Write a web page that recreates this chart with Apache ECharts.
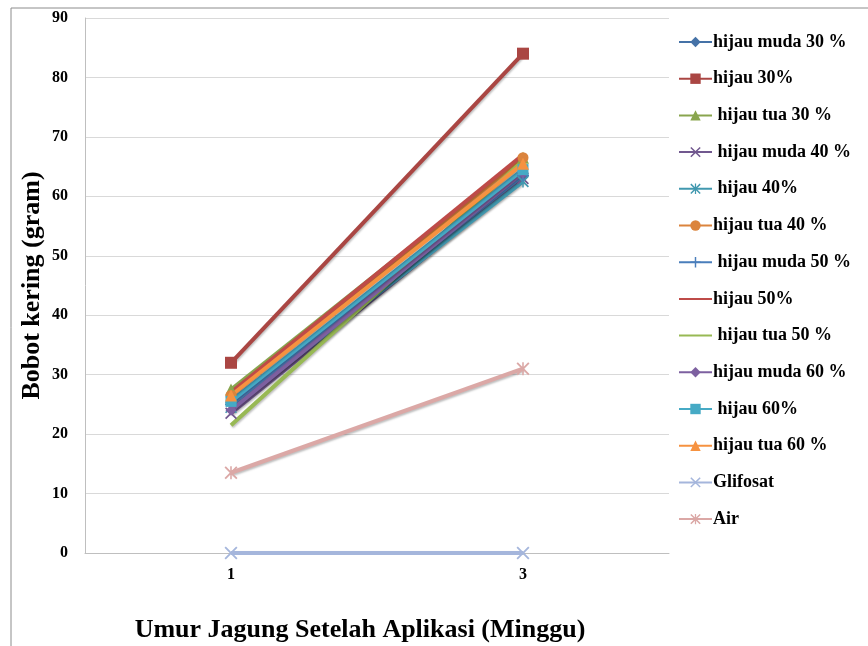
<!DOCTYPE html>
<html>
<head>
<meta charset="utf-8">
<script src="https://cdn.jsdelivr.net/npm/echarts@6/dist/echarts.min.js"></script>
<style>html,body{margin:0;padding:0;background:#fff}#c{width:868px;height:646px}</style>
</head>
<body>
<div id="c"></div>
<script>
const categories = ['1', '3'];
const seriesNames = ['hijau muda 30 %', 'hijau 30%', ' hijau tua 30 %', ' hijau muda 40 %', ' hijau 40%', 'hijau tua 40 %', ' hijau muda 50 %', 'hijau 50%', ' hijau tua 50 %', 'hijau muda 60 %', ' hijau 60%', 'hijau tua 60 %', 'Glifosat', 'Air'];
const hijauMuda30 = [25.5, 63.5];
const hijau30 = [32, 84];
const hijauTua30 = [27.5, 66.5];
const hijauMuda40 = [23.5, 63];
const hijau40 = [24.5, 62.5];
const hijauTua40 = [26.5, 66.5];
const hijauMuda50 = [25, 63.5];
const hijau50 = [27, 67];
const hijauTua50 = [21.5, 66];
const hijauMuda60 = [24, 64];
const hijau60 = [25.5, 64.5];
const hijauTua60 = [26.5, 65.5];
const glifosat = [0, 0];
const air = [13.5, 31];
const yTicks = [0, 10, 20, 30, 40, 50, 60, 70, 80, 90];

const dataList = [hijauMuda30, hijau30, hijauTua30, hijauMuda40, hijau40, hijauTua40, hijauMuda50, hijau50, hijauTua50, hijauMuda60, hijau60, hijauTua60, glifosat, air];
const colors = ['#4572A7', '#AA4643', '#89A54E', '#71588F', '#4198AF', '#DB843D', '#4A7EBB', '#BE4B48', '#98B954', '#7D60A0', '#46AAC5', '#F69240', '#A5B6DC', '#DBA8A6'];
const X = 'path://M1,0 L5,4 L9,0 L10,1 L6,5 L10,9 L9,10 L5,6 L1,10 L0,9 L4,5 L0,1 Z';
const STAR = 'path://M1,0 L5,4 L9,0 L10,1 L6,5 L10,9 L9,10 L5,6 L1,10 L0,9 L4,5 L0,1 Z M4.4,0 H5.6 V10 H4.4 Z';
const PLUS = 'path://M4.3,0H5.7V4.3H10V5.7H5.7V10H4.3V5.7H0V4.3H4.3Z';
const symbols = ['diamond', 'rect', 'triangle', X, STAR, 'circle', PLUS, 'none', 'none', 'diamond', 'rect', 'triangle', X, STAR];
const sizes = [11, 12, 12, 12, 12, 11, 12, 0, 0, 11, 11, 12, 13, 13];

const font = '"Liberation Serif", "Times New Roman", serif';
const chart = echarts.init(document.getElementById('c'));
const series = seriesNames.map((n, i) => ({
  name: n,
  type: 'line',
  data: dataList[i],
  symbol: symbols[i],
  symbolSize: sizes[i],
  showSymbol: symbols[i] !== 'none',
  itemStyle: { color: colors[i] },
  lineStyle: { color: colors[i], width: 4, shadowColor: 'rgba(0,0,0,0.25)', shadowBlur: 2, shadowOffsetX: 1, shadowOffsetY: 1.5 },
  emphasis: { disabled: true },
  z: i === 1 ? 3 : 2
}));

const legendData = seriesNames.map((n, i) => symbols[i] === 'none'
  ? { name: n, itemStyle: { opacity: 0 } }
  : { name: n });

chart.setOption({
  animation: false,
  backgroundColor: '#fff',
  grid: { left: 85, top: 18, right: 199, bottom: 93, containLabel: false, outerBoundsMode: 'none' },
  legend: {
    orient: 'vertical',
    left: 673,
    top: 27,
    itemWidth: 33,
    itemHeight: 13,
    itemGap: 16.7,
    data: legendData,
    textStyle: { fontFamily: font, fontWeight: 'bold', fontSize: 18, lineHeight: 20, color: '#000', padding: [0, 0, 0, -4] },
    selectedMode: false
  },
  xAxis: {
    type: 'category',
    data: categories,
    boundaryGap: true,
    axisLine: { lineStyle: { color: '#BFBFBF', width: 1 } },
    axisTick: { show: false },
    axisLabel: { fontFamily: font, fontWeight: 'bold', fontSize: 16, color: '#000', margin: 14 },
    splitLine: { show: false }
  },
  yAxis: {
    type: 'value',
    min: 0, max: 90, interval: 10,
    axisLine: { show: true, lineStyle: { color: '#BFBFBF', width: 1 } },
    axisTick: { show: false },
    axisLabel: { fontFamily: font, fontWeight: 'bold', fontSize: 16, color: '#000', margin: 17,
      formatter: v => yTicks.includes(v) ? String(v) : '' },
    splitLine: { lineStyle: { color: '#D9D9D9', width: 1 } },
    name: 'Bobot kering (gram)',
    nameLocation: 'middle',
    nameGap: 40,
    nameMoveOverlap: false,
    nameTextStyle: { fontFamily: font, fontWeight: 'bold', fontSize: 26, color: '#000' }
  },
  graphic: [
    { type: 'rect', shape: { x: 11, y: 8, width: 900, height: 700 }, style: { fill: 'none', stroke: '#8C8C8C', lineWidth: 1 }, silent: true, z: -1 },
    { type: 'text', x: 360, y: 630, style: { text: 'Umur Jagung Setelah Aplikasi (Minggu)', fontFamily: font, fontWeight: 'bold', fontSize: 26, fill: '#000', align: 'center', verticalAlign: 'middle' } }
  ],
  series: series
});
</script>
</body>
</html>
